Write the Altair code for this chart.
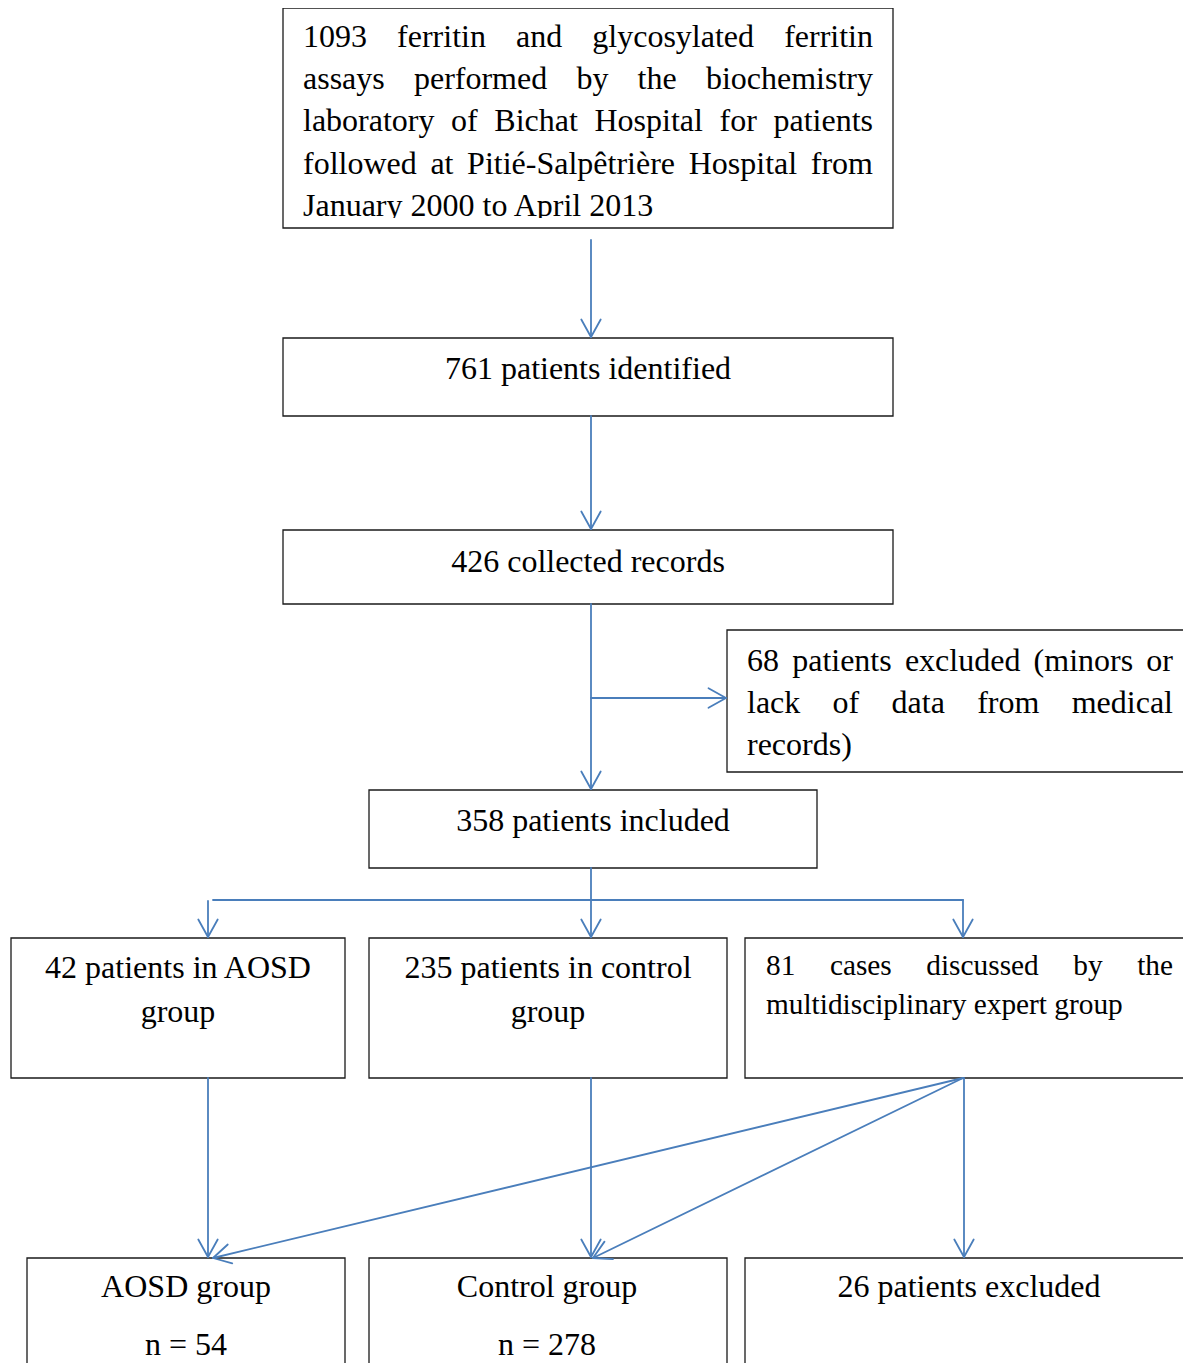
import math
import altair as alt
import pandas as pd

# ---------------- content (text of the flow chart) ----------------
top_lines = ["1093 ferritin and glycosylated ferritin",
             "assays performed by the biochemistry",
             "laboratory of Bichat Hospital for patients",
             "followed at Pitié-Salpêtrière Hospital from",
             "January 2000 to April 2013"]
identified_text = "761 patients identified"
collected_text = "426 collected records"
excluded_lines = ["68 patients excluded (minors or",
                  "lack of data from medical",
                  "records)"]
included_text = "358 patients included"
aosd_lines = ["42 patients in AOSD", "group"]
control_lines = ["235 patients in control", "group"]
expert_lines = ["81 cases discussed by the", "multidisciplinary expert group"]
final_aosd = ["AOSD group", "n = 54"]
final_control = ["Control group", "n = 278"]
final_excluded = ["26 patients excluded"]

# ---------------- layout (pixel positions of the drawing) ----------------
W, H = 1175, 1355
OX, OY = 8, 8
boxes = {
    "top":      (283, 8, 893, 228),
    "ident":    (283, 338, 893, 416),
    "collect":  (283, 530, 893, 604),
    "excl":     (727, 630, 1200, 772),
    "incl":     (369, 790, 817, 868),
    "aosd":     (11, 938, 345, 1078),
    "control":  (369, 938, 727, 1078),
    "expert":   (745, 938, 1200, 1078),
    "f_aosd":   (27, 1258, 345, 1400),
    "f_ctrl":   (369, 1258, 727, 1400),
    "f_excl":   (745, 1258, 1200, 1400),
}

# Times / Liberation Serif advance widths (per 1000 em)
TW = {" ": 250, "a": 444, "b": 500, "c": 444, "d": 500, "e": 444, "f": 333, "g": 500,
      "h": 500, "i": 278, "j": 278, "k": 500, "l": 278, "m": 778, "n": 500, "o": 500,
      "p": 500, "q": 500, "r": 333, "s": 389, "t": 278, "u": 500, "v": 500, "w": 722,
      "x": 500, "y": 500, "z": 444, "A": 722, "B": 667, "D": 722, "H": 722, "J": 389,
      "O": 722, "P": 556, "S": 556, "-": 333, "(": 333, ")": 333,
      "é": 444, "è": 444, "ê": 444}


def width(s, fs):
    return sum(TW.get(c, 500) for c in s) * fs / 1000.0


rows = []  # text rows: x, y, text, fs, align


def justified(lines, left, right, baselines, fs):
    for k, (line, yb) in enumerate(zip(lines, baselines)):
        words = line.split(" ")
        if k == len(lines) - 1 or len(words) == 1:
            rows.append(dict(x=left, y=yb, text=line, fs=fs, al="left"))
            continue
        ws = [width(w, fs) for w in words]
        gap = (right - left - sum(ws)) / (len(words) - 1)
        xx = left
        for w, wd in zip(words, ws):
            rows.append(dict(x=xx, y=yb, text=w, fs=fs, al="left"))
            xx += wd + gap


def centered(lines, xc, baselines, fs=32):
    for line, yb in zip(lines, baselines):
        rows.append(dict(x=xc, y=yb, text=line, fs=fs, al="center"))


justified(top_lines, 303, 873, [46.8, 89.1, 131.4, 173.7, 216.0], 32)
centered([identified_text], 588, [378.5])
centered([collected_text], 588, [571.5])
justified(excluded_lines, 747, 1173, [670.5, 712.8, 755.1], 32)
centered([included_text], 593, [830.5])
centered(aosd_lines, 178, [978.3, 1021.8])
centered(control_lines, 548, [978.3, 1021.8])
justified(expert_lines, 766, 1173, [975.0, 1013.8], 29.33)
centered(final_aosd, 186, [1297.0, 1355.0])
centered(final_control, 547, [1297.0, 1355.0])
centered(final_excluded, 969, [1297.0])

text_df = pd.DataFrame(rows)

# connectors: x1, y1, x2, y2, arrowhead at end
connectors = [
    (591, 240, 591, 337, True),
    (591, 416, 591, 529, True),
    (591, 604, 591, 789, True),
    (591, 698, 726, 698, True),
    (591, 868, 591, 937, True),
    (213, 900, 963, 900, False),
    (208, 901, 208, 937, True),
    (963, 900, 963, 937, True),
    (208, 1078, 208, 1257, True),
    (591, 1078, 591, 1257, True),
    (964, 1078, 964, 1257, True),
    (963, 1078, 213, 1258, True),
    (963, 1078, 593, 1258, True),
]
seg_rows = []
HEAD_LEN, HEAD_ANG = 20.0, math.radians(29)
for x1, y1, x2, y2, head in connectors:
    seg_rows.append(dict(x=x1, y=y1, x2=x2, y2=y2))
    if head:
        dx, dy = x2 - x1, y2 - y1
        L = math.hypot(dx, dy)
        ux, uy = dx / L, dy / L
        for s in (1, -1):
            ca, sa = math.cos(s * HEAD_ANG), math.sin(s * HEAD_ANG)
            rx, ry = ux * ca - uy * sa, ux * sa + uy * ca
            seg_rows.append(dict(x=x2, y=y2, x2=x2 - HEAD_LEN * rx, y2=y2 - HEAD_LEN * ry))
seg_df = pd.DataFrame(seg_rows)

box_df = pd.DataFrame([dict(x=b[0], y=b[1], x2=b[2], y2=b[3]) for b in boxes.values()])
mask_df = pd.DataFrame([dict(x=284.5, y=218.0, x2=891.5, y2=227.2)])

xs = alt.Scale(domain=[OX, OX + W], nice=False, zero=False)
ys = alt.Scale(domain=[OY, OY + H], nice=False, zero=False, reverse=True)
X = alt.X("x:Q", scale=xs, axis=None)
Y = alt.Y("y:Q", scale=ys, axis=None)

FONT = "Liberation Serif"


def text_layer(al):
    return alt.Chart(text_df[text_df.al == al]).mark_text(
        align=al, baseline="alphabetic", font=FONT, color="black"
    ).encode(x=X, y=Y, text="text:N", size=alt.Size("fs:Q", scale=None))


texts = [text_layer(a) for a in ("left", "center")]

mask = alt.Chart(mask_df).mark_rect(fill="white", strokeWidth=0).encode(
    x=X, y=Y, x2="x2:Q", y2="y2:Q")

rects = alt.Chart(box_df).mark_rect(
    fillOpacity=0, stroke="#1a1a1a", strokeWidth=1.3).encode(
    x=X, y=Y, x2="x2:Q", y2="y2:Q")

arrows = alt.Chart(seg_df).mark_rule(
    color="#4A7EBB", strokeWidth=1.8, strokeCap="round").encode(
    x=X, y=Y, x2="x2:Q", y2="y2:Q")

chart = alt.layer(*texts, mask, rects, arrows).properties(
    width=W, height=H, padding=0, autosize="none"
).configure_view(strokeWidth=0)

chart.save("out.html", embed_options={"renderer": "svg", "actions": False})
